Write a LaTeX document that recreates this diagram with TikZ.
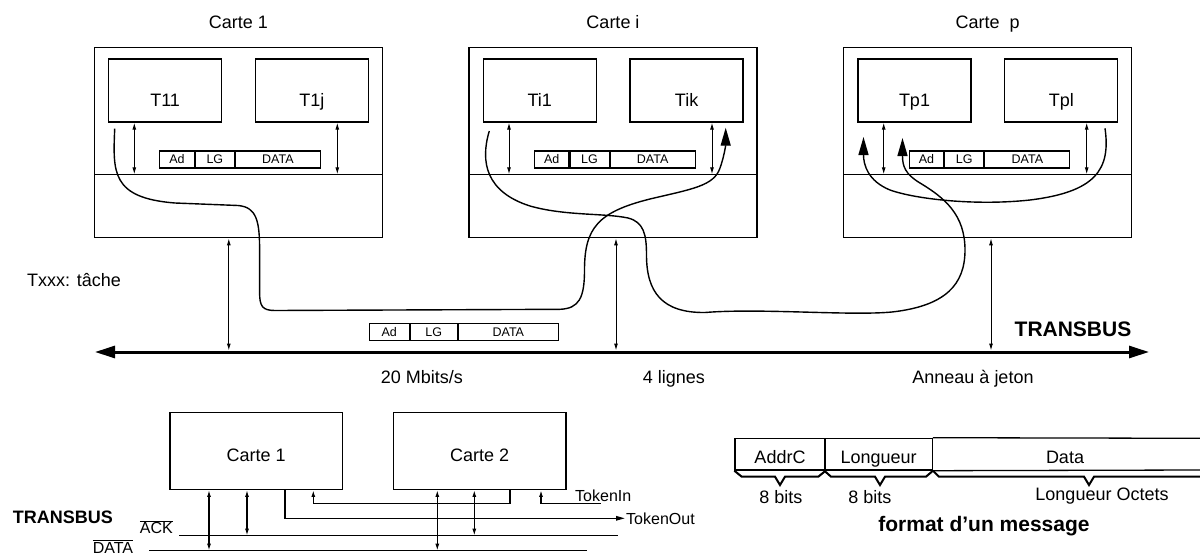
\documentclass[tikz,border=0pt]{standalone}
\usepackage{fontspec}
\setmainfont{Liberation Sans}
\usetikzlibrary{arrows.meta}
\begin{document}
\begin{tikzpicture}[x=1pt,y=-1pt,
  card/.style={draw,line width=1.3pt,minimum width=288pt,minimum height=190.4pt,inner sep=0pt},
  task/.style={draw,line width=1.3pt,minimum width=113pt,minimum height=63pt,inner sep=0pt},
  lab/.style={inner sep=0pt,font=\fontsize{18}{21}\selectfont},
  pk/.style={draw,line width=1.1pt,minimum height=17pt,inner sep=0pt,font=\fontsize{12.5}{14}\selectfont},
  divline/.style={line width=1pt},
  dbl/.style={{Latex[length=7pt,width=4pt]}-{Latex[length=7pt,width=4pt]},line width=1pt},
  flow/.style={line width=1.4pt,-{Triangle[length=18pt,width=10pt]}},
  bus/.style={line width=3pt,{Triangle[length=20pt,width=12pt]}-{Triangle[length=20pt,width=12pt]}},
  bbox/.style={draw,line width=1.3pt,minimum width=172.5pt,minimum height=76.6pt,inner sep=0pt},
  wire/.style={line width=1.4pt},
  upar/.style={wire,-{Latex[length=7pt,width=4pt]}},
  tokar/.style={wire,-{Triangle[length=9pt,width=4.5pt]}},
  tok/.style={inner sep=0pt,font=\fontsize{16}{18}\selectfont},
  fld/.style={draw,line width=1.3pt,minimum height=31.7pt,inner sep=0pt},
  brace/.style={line width=2pt,line join=miter},
  boldlab/.style={inner sep=0pt,font=\bfseries\fontsize{21}{24}\selectfont},
  boldsm/.style={inner sep=0pt,font=\bfseries\fontsize{18}{21}\selectfont}
]
\useasboundingbox (0,0) rectangle (1200,554);

% ---- three cards ----
\foreach \n/\xl/\ta/\tb/\ti in {A/94.3/T11/T1j/{Carte 1}, B/469/Ti1/Tik/{Carte i}, C/843.7/Tp1/Tpl/{Carte\ \ p}}{
  \node[card] (\n) at ({\xl+144},142.5) {};
  \node[lab,anchor=base] (\n-t) at ({\xl+144},28.5) {\ti};
  \node[task] (\n-L) at ({\xl+70.8},90.5) {};
  \node[lab,anchor=base] (\n-Lt) at ({\xl+70.8},106) {\ta};
  \node[task] (\n-R) at ({\xl+217.6},90.5) {};
  \node[lab,anchor=base] (\n-Rt) at ({\xl+217.6},106) {\tb};
  \coordinate (\n-d) at (\xl,174.3);
  \draw[divline] (\n-d) -- (\n-d -| \n.east);
  \node[pk,minimum width=34.4pt,anchor=west] (\n-p1) at ({\xl+65},159.5) {Ad};
  \node[pk,minimum width=39pt,anchor=west] (\n-p2) at (\n-p1.east) {LG};
  \node[pk,minimum width=85pt,anchor=west] (\n-p3) at (\n-p2.east) {DATA};
  \coordinate (\n-a1) at ([xshift=-30.8pt]\n-L.south);
  \coordinate (\n-a2) at ([xshift=25.4pt]\n-R.south);
  \draw[dbl] (\n-a1) -- (\n-a1 |- \n-d);
  \draw[dbl] (\n-a2) -- (\n-a2 |- \n-d);
}

% ---- bus ----
\coordinate (busL) at (95,352);
\coordinate (busR) at (1149,352);
\draw[bus] (busL) -- (busR);
\coordinate (vA) at ([xshift=-9.5pt]A.south);
\coordinate (vB) at ([xshift=3pt]B.south);
\coordinate (vC) at ([xshift=3.3pt]C.south);
\foreach \v in {vA,vB,vC}{
  \draw[dbl,shorten >=1.5pt] (\v) -- (\v |- busL);
}
\node[pk,minimum width=40.2pt,anchor=west] (q1) at (368.5,332.2) {Ad};
\node[pk,minimum width=46.7pt,anchor=west] (q2) at (q1.east) {LG};
\node[pk,minimum width=100.3pt,anchor=west] (q3) at (q2.east) {DATA};

% ---- message flows ----
\coordinate (f1s) at (114.7,128.7);
\coordinate (f1e) at (725.7,127.7);
\draw[flow] (f1s) .. controls (113,172) and (111,198) .. (175,203) -- (238,205.5) .. controls (257,207) and (259.6,222) .. (259.6,250) -- (259.6,292) .. controls (259.6,306) and (262,310.5) .. (275,310.5) -- (560,309.3) .. controls (579,308.5) and (584.5,298) .. (584.5,270) .. controls (584.5,228) and (598,212) .. (650,199) .. controls (692,189) and (714,186) .. (720,168) .. controls (724,157) and (725.7,145) .. (f1e);

\coordinate (f2s) at (489.3,131);
\coordinate (f2e) at (902.5,138);
\draw[flow] (f2s) .. controls (480,162) and (486,192) .. (530,206) .. controls (565,216) and (605,213) .. (628,218) .. controls (644,222) and (646.5,235) .. (646.5,255) .. controls (646.5,292) and (662,313) .. (705,312.5) .. controls (760,308) and (850,316) .. (892,312) .. controls (945,306) and (965,285) .. (965,250) .. controls (965,215) and (945,198) .. (920,183) .. controls (905,174) and (902.5,166) .. (f2e);

\coordinate (f3s) at (1105,128.3);
\coordinate (f3e) at (863.5,137);
\draw[flow] (f3s) .. controls (1111,170) and (1095,192) .. (1030,200) .. controls (975,206) and (915,199) .. (890,190) .. controls (868,181) and (863.5,165) .. (f3e);

% ---- top labels ----
\node[lab,anchor=base west] (txxx) at (27,286.7) {Txxx: tâche};
\node[lab,anchor=base] (mb) at (422,383) {20 Mbits/s};
\node[lab,anchor=base] (ll) at (674,383) {4 lignes};
\node[lab,anchor=base] (aj) at (973,383) {Anneau à jeton};
\node[boldlab,anchor=base] (tb) at (1073,336) {TRANSBUS};

% ---- bottom-left: two cards on TRANSBUS ----
\node[bbox] (b1) at (256.2,451) {};
\node[lab,anchor=base] (b1t) at (256.2,461) {Carte 1};
\node[bbox] (b2) at (479.7,451) {};
\node[lab,anchor=base] (b2t) at (479.7,461) {Carte 2};

\coordinate (ackL) at (179,535.7);
\coordinate (ackR) at (618,535.7);
\coordinate (datL) at (149,550.7);
\coordinate (datR) at (587.3,550.7);
\draw[wire] (ackL) -- (ackR);
\draw[wire] (datL) -- (datR);

\coordinate (s1) at ([xshift=-47.2pt]b1.south);
\coordinate (s2) at ([xshift=-9.2pt]b1.south);
\coordinate (s3) at ([xshift=-42.4pt]b2.south);
\coordinate (s4) at ([xshift=-5.4pt]b2.south);
\draw[dbl,line width=1.3pt] (s1) -- (s1 |- datL);
\draw[dbl,line width=1.3pt] (s2) -- (s2 |- ackL);
\draw[dbl,line width=1.3pt] (s3) -- (s3 |- datL);
\draw[dbl,line width=1.3pt] (s4) -- (s4 |- ackL);

\coordinate (o1) at ([xshift=28.8pt]b1.south);
\coordinate (tout) at (625,518.3);
\draw[tokar] (o1) |- (tout);
\node[tok,anchor=west] (toutt) at ([xshift=1pt]tout) {TokenOut};

\coordinate (o2) at ([xshift=30.3pt]b2.south);
\coordinate (i1) at ([xshift=57.1pt]b1.south);
\coordinate (mid) at (400,503.3);
\draw[upar] (o2) |- (i1 |- mid) -- (i1);

\coordinate (i2) at ([xshift=61.3pt]b2.south);
\coordinate (tin) at (600.7,503.3);
\draw[upar] (tin) -| (i2);
\node[tok,anchor=base west] (tint) at (575,501.5) {TokenIn};

\node[boldsm,anchor=base] (tb2) at (62.8,523) {TRANSBUS};
\node[tok,anchor=base] (ackt) at (156.3,533.5) {$\overline{\mbox{ACK}}$};
\node[tok,anchor=base] (datt) at (113,553) {$\overline{\mbox{DATA}}$};

% ---- message format ----
\node[fld,minimum width=90pt] (fa) at (780,454.2) {};
\node[lab,anchor=base] (fat) at (fa.center |- 0,463.3) {AddrC};
\node[fld,minimum width=107.3pt] (fl) at (878.65,454.2) {};
\node[lab,anchor=base] (flt) at (fl.center |- 0,463.3) {Longueur};
\coordinate (fR1) at (1200,438.3);
\coordinate (fR2) at (1200,470);
\draw[line width=1.3pt] (fl.north east) -- (fR1);
\draw[line width=1.3pt] (fl.south east) -- (fR2);
\node[lab,anchor=base] (fdt) at (1065,463.3) {Data};

\draw[brace] (fa.south west) -- (741.7,476.7) -- (775,476.7) -- (780,485) -- (785,476.7) -- (818.3,476.7) -- (fa.south east);
\draw[brace] (fl.south west) -- (831,476.7) -- (875,476.7) -- (880,485) -- (885,476.7) -- (926,476.7) -- (fl.south east);
\draw[brace] (fl.south east) -- (939,476.7) -- (1084,476.7) -- (1089,485) -- (1094,476.7) -- (1200,476.7);

\node[lab,anchor=base] (b8a) at (781,503) {8 bits};
\node[lab,anchor=base] (b8b) at (870,503) {8 bits};
\node[lab,anchor=base] (lo) at (1102,500) {Longueur Octets};
\node[boldlab,anchor=base] (fmt) at (984,531) {format d’un message};
\end{tikzpicture}
\end{document}
